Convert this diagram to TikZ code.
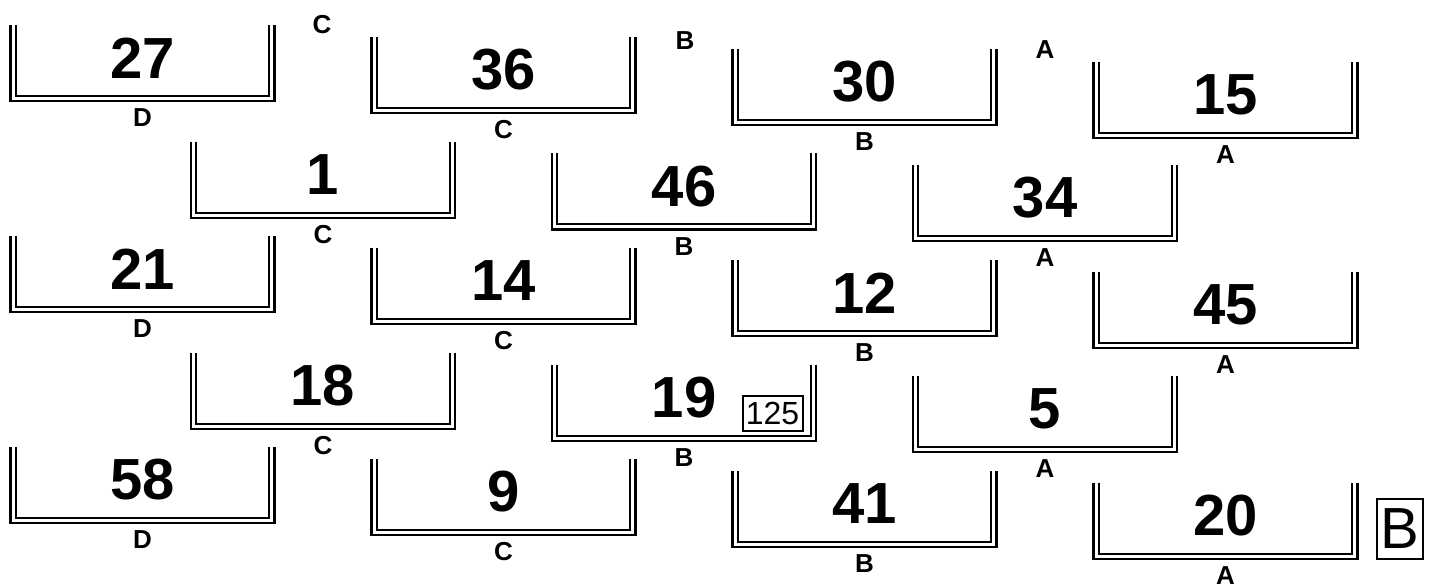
\documentclass[tikz,border=0pt]{standalone}
\usepackage{fontspec}
\setmainfont{Liberation Sans}

\begin{document}
\begin{tikzpicture}[x=1pt,y=-1pt,
  tray/.style={double, double distance=2.7pt, line width=2.4pt},
  num/.style={font=\fontsize{58}{58}\selectfont\bfseries, inner sep=0pt},
  lbl/.style={font=\fontsize{26}{26}\selectfont\bfseries, inner sep=0pt},
  tag/.style={draw, line width=2pt, inner sep=0pt}]
\useasboundingbox (0,0) rectangle (1434,588);
\foreach \x/\y/\n/\l in {9.5/25/27/D, 370.5/37/36/C, 731.5/49/30/B, 1092.5/62/15/A,
  190/142/1/C, 551/153.5/46/B, 912/165/34/A,
  9.5/236/21/D, 370.5/248/14/C, 731.5/260/12/B, 1092.5/272/45/A,
  190/353/18/C, 551/365/19/B, 912/376/5/A,
  9.5/447/58/D, 370.5/459/9/C, 731.5/471/41/B, 1092.5/483/20/A}{
  \draw[tray] (\x+3.7,\y) -- (\x+3.7,\y+73.3) -- (\x+262.3,\y+73.3) -- (\x+262.3,\y);
  \path (\x+133,\y+33) node[num] (n\n) {\n};
  \path (\x+133,\y+93) node[lbl] (l\n) {\l};
}
\path (322,25) node[lbl] (topc) {C};
\path (685,41) node[lbl] (topb) {B};
\path (1045,50) node[lbl] (topa) {A};
\node[tag, minimum width=60pt, minimum height=35pt, font=\fontsize{32}{32}\selectfont] (k125) at (772.5,413.5) {125};
\node[tag, minimum width=46pt, minimum height=60pt, font=\fontsize{58}{58}\selectfont] (kb) at (1400,529) {B};
\end{tikzpicture}
\end{document}
